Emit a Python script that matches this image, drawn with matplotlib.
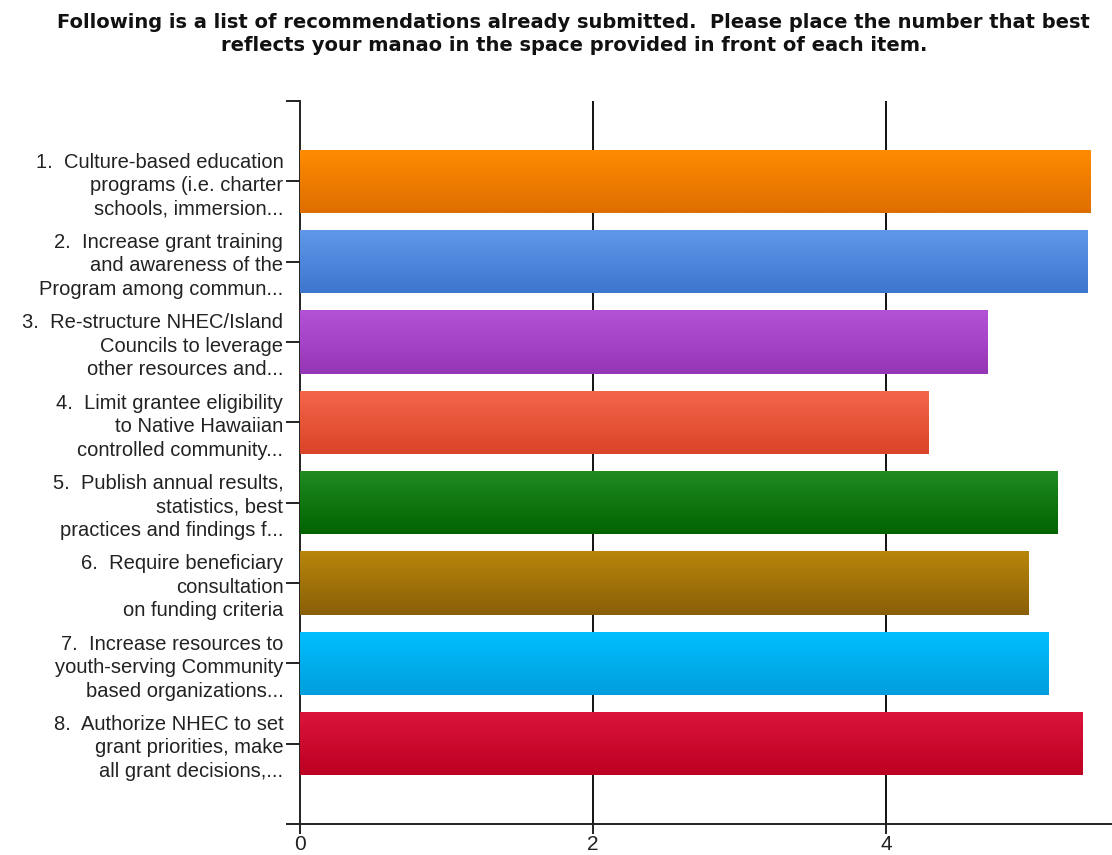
import numpy as np
import matplotlib
matplotlib.use("Agg")
import matplotlib.pyplot as plt
from matplotlib.colors import LinearSegmentedColormap

title = ("Following is a list of recommendations already submitted.  Please place the number that best\n"
         "reflects your manao in the space provided in front of each item.")

categories = [
    "1.  Culture-based education\nprograms (i.e. charter\nschools, immersion...",
    "2.  Increase grant training\nand awareness of the\nProgram among commun...",
    "3.  Re-structure NHEC/Island\nCouncils to leverage\nother resources and...",
    "4.  Limit grantee eligibility\nto Native Hawaiian\ncontrolled community...",
    "5.  Publish annual results,\nstatistics, best\npractices and findings f...",
    "6.  Require beneficiary\nconsultation\non funding criteria",
    "7.  Increase resources to\nyouth-serving Community\nbased organizations...",
    "8.  Authorize NHEC to set\ngrant priorities, make\nall grant decisions,...",
]
values = [5.39, 5.37, 4.69, 4.29, 5.17, 4.97, 5.11, 5.34]
top_colors = ["#FF8C00", "#6098EA", "#B452D6", "#F4664A", "#228B22", "#B8860B", "#00BFFF", "#DC143C"]
bottom_colors = ["#DE6E00", "#3E76CE", "#9536B6", "#DA4428", "#006400", "#8A5F08", "#009EDC", "#BC0022"]
xticks = [0, 2, 4]

fig = plt.figure(figsize=(11.12, 8.55), dpi=100)
ax = fig.add_axes([300/1112, 31/855, 812/1112, 723/855])

y = np.arange(len(categories))
bars = ax.barh(y, values, height=0.79, color=top_colors, zorder=2)

grad = np.linspace(0, 1, 64).reshape(-1, 1)
for patch, c0, c1 in zip(bars.patches, top_colors, bottom_colors):
    cmap = LinearSegmentedColormap.from_list("g", [c0, c1])
    x0, y0 = patch.get_x(), patch.get_y()
    w, h = patch.get_width(), patch.get_height()
    im = ax.imshow(grad, cmap=cmap, aspect="auto", extent=[x0, x0 + w, y0 + h, y0],
                   origin="upper", zorder=3, interpolation="bilinear")
    im.set_clip_path(patch)

ax.set_xlim(0, 5.54)
ax.set_ylim(len(categories), -1)

for xv in xticks[1:]:
    ax.axvline(xv, color="#111111", lw=1.4, zorder=1)

ax.spines["top"].set_visible(False)
ax.spines["right"].set_visible(False)
ax.spines["left"].set_color("#222222")
ax.spines["bottom"].set_color("#222222")
ax.spines["left"].set_linewidth(1.4)
ax.spines["bottom"].set_linewidth(1.4)

ax.set_yticks(list(y) + [-1, len(categories)])
ax.set_yticklabels(categories + ["", ""], fontfamily="Liberation Sans", fontsize=14.5,
                   color="#222222", linespacing=1.3)
ax.tick_params(axis="y", length=10, width=1.4, color="#222222", pad=2)
ax.set_xticks(xticks)
ax.set_xticklabels([str(v) for v in xticks], fontfamily="Liberation Sans", fontsize=15, color="#222222")
ax.tick_params(axis="x", length=7, width=1.4, color="#222222", pad=1)

fig.text(0.516, 0.985, title, ha="center", va="top", fontfamily="DejaVu Sans",
         fontweight="bold", fontsize=14, color="#111111", linespacing=1.3)

fig.savefig("out.png", dpi=100, facecolor="white")
